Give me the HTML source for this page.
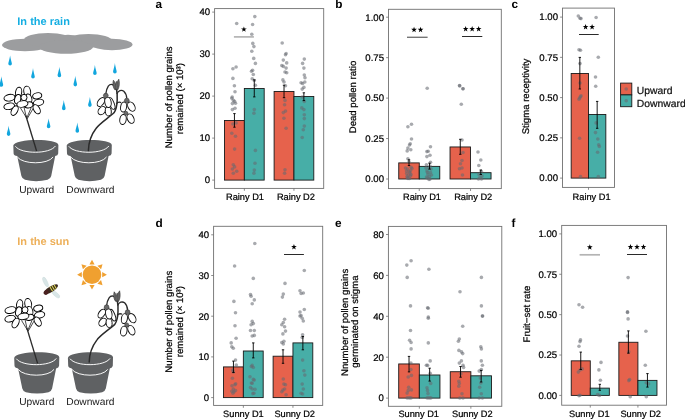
<!DOCTYPE html>
<html><head><meta charset="utf-8"><style>
html,body{margin:0;padding:0;background:#fff;}
svg{display:block;will-change:transform;text-rendering:geometricPrecision;font-family:"Liberation Sans", sans-serif;}
</style></head><body>
<svg width="685" height="419" viewBox="0 0 685 419">
<rect width="685" height="419" fill="#fff"/>
<text x="17.3" y="25.3" font-size="11" font-weight="bold" fill="#14AEE2">In the rain</text><g fill="#9C9D9F"><ellipse cx="25" cy="45" rx="23" ry="6.2"/><ellipse cx="48" cy="40" rx="24" ry="7"/><ellipse cx="88.5" cy="40.8" rx="23.5" ry="6.8"/><ellipse cx="68" cy="40.6" rx="14" ry="5.9"/><ellipse cx="66" cy="47" rx="27" ry="6.8"/><ellipse cx="112" cy="44.5" rx="20.5" ry="5.8"/></g><path d="M10.1 55.4 C10.5 58.9 11.9 62.5 11.9 63.7 A1.8 1.8 0 0 1 8.3 63.7 C8.3 62.5 9.7 58.9 10.1 55.4Z" fill="#12A6DE"/><path d="M33.0 67.9 C33.4 71.6 34.8 75.6 34.8 76.8 A1.8 1.8 0 0 1 31.2 76.8 C31.2 75.6 32.6 71.6 33.0 67.9Z" fill="#12A6DE"/><path d="M59.4 66.7 C59.8 70.4 61.2 74.2 61.2 75.4 A1.8 1.8 0 0 1 57.6 75.4 C57.6 74.2 59.0 70.4 59.4 66.7Z" fill="#12A6DE"/><path d="M1.4 76.2 C1.8 79.9 3.2 83.7 3.2 84.9 A1.8 1.8 0 0 1 -0.4 84.9 C-0.4 83.7 1.0 79.9 1.4 76.2Z" fill="#12A6DE"/><path d="M75.3 75.7 C75.7 79.4 77.1 83.4 77.1 84.6 A1.8 1.8 0 0 1 73.5 84.6 C73.5 83.4 74.9 79.4 75.3 75.7Z" fill="#12A6DE"/><path d="M94.9 64.9 C95.3 68.5 96.7 72.1 96.7 73.3 A1.8 1.8 0 0 1 93.1 73.3 C93.1 72.1 94.5 68.5 94.9 64.9Z" fill="#12A6DE"/><path d="M114.9 63.1 C115.3 66.8 116.7 70.6 116.7 71.8 A1.8 1.8 0 0 1 113.1 71.8 C113.1 70.6 114.5 66.8 114.9 63.1Z" fill="#12A6DE"/><path d="M63.8 100.1 C64.2 103.7 65.6 107.3 65.6 108.5 A1.8 1.8 0 0 1 62.0 108.5 C62.0 107.3 63.4 103.7 63.8 100.1Z" fill="#12A6DE"/><path d="M89.9 97.0 C90.3 100.5 91.7 103.9 91.7 105.1 A1.8 1.8 0 0 1 88.1 105.1 C88.1 103.9 89.5 100.5 89.9 97.0Z" fill="#12A6DE"/><path d="M48.6 118.5 C49.0 121.9 50.4 125.3 50.4 126.5 A1.8 1.8 0 0 1 46.8 126.5 C46.8 125.3 48.2 121.9 48.6 118.5Z" fill="#12A6DE"/><path d="M8.6 125.7 C9.0 129.3 10.4 132.9 10.4 134.1 A1.8 1.8 0 0 1 6.8 134.1 C6.8 132.9 8.2 129.3 8.6 125.7Z" fill="#12A6DE"/><path d="M77.3 122.6 C77.7 126.2 79.1 129.8 79.1 131.0 A1.8 1.8 0 0 1 75.5 131.0 C75.5 129.8 76.9 126.2 77.3 122.6Z" fill="#12A6DE"/><g transform="translate(0 0)"><path d="M13.3 145.6 C13.4 138.3 58.3 137.9 58.4 144.9 L58.2 153.4 Q58 155.4 55.2 156 L51.2 176 Q50.6 178.6 47.6 179.8 Q36 182.6 25 179.8 Q22 178.6 21.4 176 L17.2 156 Q13.8 155.4 13.6 153.4 Z" fill="#5F6163"/><path d="M15.4 146.3 C21 154.3 50 154.3 55.4 146" stroke="#fff" stroke-width="0.95" fill="none"/><path d="M17.3 157 C23 164.7 48 164.7 53.1 157" stroke="#fff" stroke-width="0.95" fill="none"/></g><g transform="translate(53.4 0)"><path d="M13.3 145.6 C13.4 138.3 58.3 137.9 58.4 144.9 L58.2 153.4 Q58 155.4 55.2 156 L51.2 176 Q50.6 178.6 47.6 179.8 Q36 182.6 25 179.8 Q22 178.6 21.4 176 L17.2 156 Q13.8 155.4 13.6 153.4 Z" fill="#5F6163"/><path d="M15.4 146.3 C21 154.3 50 154.3 55.4 146" stroke="#fff" stroke-width="0.95" fill="none"/><path d="M17.3 157 C23 164.7 48 164.7 53.1 157" stroke="#fff" stroke-width="0.95" fill="none"/></g><g transform="translate(0 0)"><path d="M25.8 115.5 L36.6 151" stroke="#2b2b2b" stroke-width="1.35" fill="none"/><path d="M26.3 117.5 L20.5 108 M26.3 117.5 L24 107 M26.8 118 L31 108 M27 119 L34 107" stroke="#2b2b2b" stroke-width="0.85" fill="none"/></g><g transform="translate(0 0)"><ellipse cx="9.5" cy="97.7" rx="5.6" ry="3.3" transform="rotate(-12 9.5 97.7)" fill="#fff" stroke="#000" stroke-width="0.95"/><ellipse cx="9.2" cy="106.3" rx="5.4" ry="3.2" transform="rotate(-12 9.2 106.3)" fill="#fff" stroke="#000" stroke-width="0.95"/><ellipse cx="14.6" cy="110.6" rx="3.0" ry="5.2" transform="rotate(28 14.6 110.6)" fill="#fff" stroke="#000" stroke-width="0.95"/><ellipse cx="38.6" cy="102.5" rx="5.2" ry="3.2" transform="rotate(-12 38.6 102.5)" fill="#fff" stroke="#000" stroke-width="0.95"/><ellipse cx="37.2" cy="95.8" rx="4.6" ry="3.0" transform="rotate(-12 37.2 95.8)" fill="#fff" stroke="#000" stroke-width="0.95"/><ellipse cx="36.7" cy="109.2" rx="3.0" ry="5.0" transform="rotate(-30 36.7 109.2)" fill="#fff" stroke="#000" stroke-width="0.95"/><ellipse cx="18.6" cy="92.5" rx="3.1" ry="5.3" transform="rotate(10 18.6 92.5)" fill="#fff" stroke="#000" stroke-width="0.95"/><ellipse cx="27.2" cy="91.5" rx="3.4" ry="5.4" transform="rotate(-10 27.2 91.5)" fill="#fff" stroke="#000" stroke-width="0.95"/><ellipse cx="17.7" cy="99.2" rx="3.0" ry="4.8" transform="rotate(15 17.7 99.2)" fill="#fff" stroke="#000" stroke-width="0.95"/><ellipse cx="28.6" cy="98.7" rx="3.2" ry="4.8" transform="rotate(-15 28.6 98.7)" fill="#fff" stroke="#000" stroke-width="0.95"/><ellipse cx="24.0" cy="97.5" rx="3.0" ry="3.2" transform="rotate(0 24.0 97.5)" fill="#fff" stroke="#000" stroke-width="0.95"/><ellipse cx="28.6" cy="104.9" rx="4.4" ry="3.0" transform="rotate(-10 28.6 104.9)" fill="#fff" stroke="#000" stroke-width="0.95"/><ellipse cx="22.4" cy="104.0" rx="5.6" ry="3.2" transform="rotate(-10 22.4 104.0)" fill="#fff" stroke="#000" stroke-width="0.95"/></g><g transform="translate(0 0)" fill="none" stroke="#2a2a2a" stroke-linecap="round"><path d="M88.4 150.5 C88.6 142 91 135 96 128.5 C100 123 109 117.5 114 112.8 C116.6 109 117.1 104 117.2 100 C117.4 95 117 91.5 116.5 89" stroke-width="1.5"/></g><g transform="translate(0 0)"><g fill="none" stroke="#2a2a2a" stroke-width="1.35"><path d="M116 88.5 C114.5 84 110.5 83.3 108.3 86.2 C106.6 88.8 106 92 105.8 94"/><path d="M116.9 94 C118 90.3 121.6 89.6 123.8 91.2 C125.8 93 126.6 96 126.8 98.5"/><path d="M116.3 103.8 C117.6 102.2 119.6 101.9 121.2 102.6"/></g><path d="M114.6 89.6 C112.6 87 112.6 83 113.4 80.2 C115 82 116 84.5 116.2 89.6Z" fill="#6a6a6a" stroke="#2a2a2a" stroke-width="0.6"/><path d="M116 89.6 C115.6 86 116.5 82.5 118.8 79.2 C119.8 83 119.4 87 117.8 89.8Z" fill="#6a6a6a" stroke="#2a2a2a" stroke-width="0.6"/><path d="M115.4 89.4 C114.8 86.5 115.4 83.5 116.4 81.3 C117.2 84 117.2 87 116.8 89.6Z" fill="#777" stroke="#2a2a2a" stroke-width="0.5"/><ellipse cx="101.9" cy="110.6" rx="3.3" ry="4.5" transform="rotate(40 101.9 110.6)" fill="#fff" stroke="#111" stroke-width="0.95"/><ellipse cx="108.3" cy="111.3" rx="3.0" ry="4.6" transform="rotate(-5 108.3 111.3)" fill="#fff" stroke="#111" stroke-width="0.95"/><ellipse cx="101" cy="102" rx="3.0" ry="5.0" transform="rotate(35 101 102)" fill="#fff" stroke="#111" stroke-width="0.95"/><ellipse cx="111.8" cy="103.5" rx="2.3" ry="6.2" transform="rotate(-22 111.8 103.5)" fill="#fff" stroke="#111" stroke-width="0.95"/><ellipse cx="108" cy="102.3" rx="3.2" ry="5.2" transform="rotate(-10 108 102.3)" fill="#fff" stroke="#111" stroke-width="0.95"/><circle cx="105.8" cy="95.6" r="2.4" fill="#6a6a6a" stroke="#333" stroke-width="0.6"/><ellipse cx="123" cy="119.5" rx="3.2" ry="5.0" transform="rotate(10 123 119.5)" fill="#fff" stroke="#111" stroke-width="0.95"/><ellipse cx="130.6" cy="118.6" rx="3.2" ry="5.0" transform="rotate(-25 130.6 118.6)" fill="#fff" stroke="#111" stroke-width="0.95"/><ellipse cx="123.6" cy="107" rx="3.0" ry="5.0" transform="rotate(10 123.6 107)" fill="#fff" stroke="#111" stroke-width="0.95"/><ellipse cx="131.4" cy="106.6" rx="3.3" ry="5.0" transform="rotate(-30 131.4 106.6)" fill="#fff" stroke="#111" stroke-width="0.95"/><circle cx="126.8" cy="100.6" r="2.4" fill="#6a6a6a" stroke="#333" stroke-width="0.6"/><circle cx="125.9" cy="113.3" r="2.0" fill="#6a6a6a" stroke="#333" stroke-width="0.6"/></g><text x="36.7" y="193.2" font-size="10.2" text-anchor="middle" fill="#1a1a1a">Upward</text><text x="90.4" y="193.2" font-size="10.2" text-anchor="middle" fill="#1a1a1a">Downward</text><text x="17.3" y="245.2" font-size="11" font-weight="bold" fill="#EDB05A">In the sun</text><g transform="translate(92 274.7)" fill="#F0A030"><circle r="9.3"/><path d="M-2.6 -10.2 L0 -14.9 L2.6 -10.2Z" transform="rotate(0)"/><path d="M-2.6 -10.2 L0 -14.9 L2.6 -10.2Z" transform="rotate(45)"/><path d="M-2.6 -10.2 L0 -14.9 L2.6 -10.2Z" transform="rotate(90)"/><path d="M-2.6 -10.2 L0 -14.9 L2.6 -10.2Z" transform="rotate(135)"/><path d="M-2.6 -10.2 L0 -14.9 L2.6 -10.2Z" transform="rotate(180)"/><path d="M-2.6 -10.2 L0 -14.9 L2.6 -10.2Z" transform="rotate(225)"/><path d="M-2.6 -10.2 L0 -14.9 L2.6 -10.2Z" transform="rotate(270)"/><path d="M-2.6 -10.2 L0 -14.9 L2.6 -10.2Z" transform="rotate(315)"/></g><ellipse cx="45.5" cy="282" rx="1.9" ry="5.3" transform="rotate(-25.6 45.5 282)" fill="#d9e6e7" stroke="#c0d2d2" stroke-width="0.3"/><ellipse cx="56" cy="294.5" rx="2.0" ry="4.6" transform="rotate(-49.5 56 294.5)" fill="#d9e6e7" stroke="#c0d2d2" stroke-width="0.3"/><g transform="translate(50.8 289.3) rotate(-31.7)"><ellipse cx="0" cy="0" rx="8.3" ry="2.8" fill="#3b2a1e"/><ellipse cx="-5.5" cy="0.2" rx="2.6" ry="2.3" fill="#4a2020"/><path d="M0.5 -2.6 V2.6 M2.8 -2.5 V2.5 M5.1 -2.1 V2.1" stroke="#dede5a" stroke-width="1.05"/></g><g transform="translate(0.9 212.4)"><path d="M13.3 145.6 C13.4 138.3 58.3 137.9 58.4 144.9 L58.2 153.4 Q58 155.4 55.2 156 L51.2 176 Q50.6 178.6 47.6 179.8 Q36 182.6 25 179.8 Q22 178.6 21.4 176 L17.2 156 Q13.8 155.4 13.6 153.4 Z" fill="#5F6163"/><path d="M15.4 146.3 C21 154.3 50 154.3 55.4 146" stroke="#fff" stroke-width="0.95" fill="none"/><path d="M17.3 157 C23 164.7 48 164.7 53.1 157" stroke="#fff" stroke-width="0.95" fill="none"/></g><g transform="translate(54.6 212.4)"><path d="M13.3 145.6 C13.4 138.3 58.3 137.9 58.4 144.9 L58.2 153.4 Q58 155.4 55.2 156 L51.2 176 Q50.6 178.6 47.6 179.8 Q36 182.6 25 179.8 Q22 178.6 21.4 176 L17.2 156 Q13.8 155.4 13.6 153.4 Z" fill="#5F6163"/><path d="M15.4 146.3 C21 154.3 50 154.3 55.4 146" stroke="#fff" stroke-width="0.95" fill="none"/><path d="M17.3 157 C23 164.7 48 164.7 53.1 157" stroke="#fff" stroke-width="0.95" fill="none"/></g><g transform="translate(1 212.4)"><path d="M25.8 115.5 L36.6 151" stroke="#2b2b2b" stroke-width="1.35" fill="none"/><path d="M26.3 117.5 L20.5 108 M26.3 117.5 L24 107 M26.8 118 L31 108 M27 119 L34 107" stroke="#2b2b2b" stroke-width="0.85" fill="none"/></g><g transform="translate(1 212.4)"><ellipse cx="9.5" cy="97.7" rx="5.6" ry="3.3" transform="rotate(-12 9.5 97.7)" fill="#fff" stroke="#000" stroke-width="0.95"/><ellipse cx="9.2" cy="106.3" rx="5.4" ry="3.2" transform="rotate(-12 9.2 106.3)" fill="#fff" stroke="#000" stroke-width="0.95"/><ellipse cx="14.6" cy="110.6" rx="3.0" ry="5.2" transform="rotate(28 14.6 110.6)" fill="#fff" stroke="#000" stroke-width="0.95"/><ellipse cx="38.6" cy="102.5" rx="5.2" ry="3.2" transform="rotate(-12 38.6 102.5)" fill="#fff" stroke="#000" stroke-width="0.95"/><ellipse cx="37.2" cy="95.8" rx="4.6" ry="3.0" transform="rotate(-12 37.2 95.8)" fill="#fff" stroke="#000" stroke-width="0.95"/><ellipse cx="36.7" cy="109.2" rx="3.0" ry="5.0" transform="rotate(-30 36.7 109.2)" fill="#fff" stroke="#000" stroke-width="0.95"/><ellipse cx="18.6" cy="92.5" rx="3.1" ry="5.3" transform="rotate(10 18.6 92.5)" fill="#fff" stroke="#000" stroke-width="0.95"/><ellipse cx="27.2" cy="91.5" rx="3.4" ry="5.4" transform="rotate(-10 27.2 91.5)" fill="#fff" stroke="#000" stroke-width="0.95"/><ellipse cx="17.7" cy="99.2" rx="3.0" ry="4.8" transform="rotate(15 17.7 99.2)" fill="#fff" stroke="#000" stroke-width="0.95"/><ellipse cx="28.6" cy="98.7" rx="3.2" ry="4.8" transform="rotate(-15 28.6 98.7)" fill="#fff" stroke="#000" stroke-width="0.95"/><ellipse cx="24.0" cy="97.5" rx="3.0" ry="3.2" transform="rotate(0 24.0 97.5)" fill="#fff" stroke="#000" stroke-width="0.95"/><ellipse cx="28.6" cy="104.9" rx="4.4" ry="3.0" transform="rotate(-10 28.6 104.9)" fill="#fff" stroke="#000" stroke-width="0.95"/><ellipse cx="22.4" cy="104.0" rx="5.6" ry="3.2" transform="rotate(-10 22.4 104.0)" fill="#fff" stroke="#000" stroke-width="0.95"/></g><g transform="translate(0.8 211.6)" fill="none" stroke="#2a2a2a" stroke-linecap="round"><path d="M88.4 150.5 C88.6 142 91 135 96 128.5 C100 123 109 117.5 114 112.8 C116.6 109 117.1 104 117.2 100 C117.4 95 117 91.5 116.5 89" stroke-width="1.5"/></g><g transform="translate(0.8 211.6)"><g fill="none" stroke="#2a2a2a" stroke-width="1.35"><path d="M116 88.5 C114.5 84 110.5 83.3 108.3 86.2 C106.6 88.8 106 92 105.8 94"/><path d="M116.9 94 C118 90.3 121.6 89.6 123.8 91.2 C125.8 93 126.6 96 126.8 98.5"/><path d="M116.3 103.8 C117.6 102.2 119.6 101.9 121.2 102.6"/></g><path d="M114.6 89.6 C112.6 87 112.6 83 113.4 80.2 C115 82 116 84.5 116.2 89.6Z" fill="#6a6a6a" stroke="#2a2a2a" stroke-width="0.6"/><path d="M116 89.6 C115.6 86 116.5 82.5 118.8 79.2 C119.8 83 119.4 87 117.8 89.8Z" fill="#6a6a6a" stroke="#2a2a2a" stroke-width="0.6"/><path d="M115.4 89.4 C114.8 86.5 115.4 83.5 116.4 81.3 C117.2 84 117.2 87 116.8 89.6Z" fill="#777" stroke="#2a2a2a" stroke-width="0.5"/><ellipse cx="101.9" cy="110.6" rx="3.3" ry="4.5" transform="rotate(40 101.9 110.6)" fill="#fff" stroke="#111" stroke-width="0.95"/><ellipse cx="108.3" cy="111.3" rx="3.0" ry="4.6" transform="rotate(-5 108.3 111.3)" fill="#fff" stroke="#111" stroke-width="0.95"/><ellipse cx="101" cy="102" rx="3.0" ry="5.0" transform="rotate(35 101 102)" fill="#fff" stroke="#111" stroke-width="0.95"/><ellipse cx="111.8" cy="103.5" rx="2.3" ry="6.2" transform="rotate(-22 111.8 103.5)" fill="#fff" stroke="#111" stroke-width="0.95"/><ellipse cx="108" cy="102.3" rx="3.2" ry="5.2" transform="rotate(-10 108 102.3)" fill="#fff" stroke="#111" stroke-width="0.95"/><circle cx="105.8" cy="95.6" r="2.4" fill="#6a6a6a" stroke="#333" stroke-width="0.6"/><ellipse cx="123" cy="119.5" rx="3.2" ry="5.0" transform="rotate(10 123 119.5)" fill="#fff" stroke="#111" stroke-width="0.95"/><ellipse cx="130.6" cy="118.6" rx="3.2" ry="5.0" transform="rotate(-25 130.6 118.6)" fill="#fff" stroke="#111" stroke-width="0.95"/><ellipse cx="123.6" cy="107" rx="3.0" ry="5.0" transform="rotate(10 123.6 107)" fill="#fff" stroke="#111" stroke-width="0.95"/><ellipse cx="131.4" cy="106.6" rx="3.3" ry="5.0" transform="rotate(-30 131.4 106.6)" fill="#fff" stroke="#111" stroke-width="0.95"/><circle cx="126.8" cy="100.6" r="2.4" fill="#6a6a6a" stroke="#333" stroke-width="0.6"/><circle cx="125.9" cy="113.3" r="2.0" fill="#6a6a6a" stroke="#333" stroke-width="0.6"/></g><text x="36.8" y="405.4" font-size="10.2" text-anchor="middle" fill="#1a1a1a">Upward</text><text x="90.4" y="405.4" font-size="10.2" text-anchor="middle" fill="#1a1a1a">Downward</text>
<text x="155.60" y="7.90" font-size="11.8" text-anchor="start" font-weight="bold" fill="#000">a</text>
<text x="172.20" y="97.30" font-size="9.6" text-anchor="middle" font-weight="normal" fill="#000" stroke="#000" stroke-width="0.22" transform="rotate(-90 172.2 97.3)">Number of pollen grains</text>
<text x="183.00" y="98.60" font-size="9.6" text-anchor="middle" font-weight="normal" fill="#000" stroke="#000" stroke-width="0.22" transform="rotate(-90 183.0 98.6)">remained (× 10³)</text>
<line x1="212.20" y1="180.10" x2="214.60" y2="180.10" stroke="#707070" stroke-width="0.8"/>
<text x="210.10" y="183.40" font-size="9.6" text-anchor="end" font-weight="normal" fill="#000" stroke="#000" stroke-width="0.22">0</text>
<line x1="212.20" y1="138.10" x2="214.60" y2="138.10" stroke="#707070" stroke-width="0.8"/>
<text x="210.10" y="141.40" font-size="9.6" text-anchor="end" font-weight="normal" fill="#000" stroke="#000" stroke-width="0.22">10</text>
<line x1="212.20" y1="96.10" x2="214.60" y2="96.10" stroke="#707070" stroke-width="0.8"/>
<text x="210.10" y="99.40" font-size="9.6" text-anchor="end" font-weight="normal" fill="#000" stroke="#000" stroke-width="0.22">20</text>
<line x1="212.20" y1="54.10" x2="214.60" y2="54.10" stroke="#707070" stroke-width="0.8"/>
<text x="210.10" y="57.40" font-size="9.6" text-anchor="end" font-weight="normal" fill="#000" stroke="#000" stroke-width="0.22">30</text>
<line x1="212.20" y1="12.10" x2="214.60" y2="12.10" stroke="#707070" stroke-width="0.8"/>
<text x="210.10" y="15.40" font-size="9.6" text-anchor="end" font-weight="normal" fill="#000" stroke="#000" stroke-width="0.22">40</text>
<rect x="224.52" y="120.46" width="19.84" height="59.64" fill="#E6624C" stroke="#1a1a1a" stroke-width="0.9"/>
<rect x="244.35" y="88.54" width="19.84" height="91.56" fill="#47AEA7" stroke="#1a1a1a" stroke-width="0.9"/>
<rect x="274.11" y="91.48" width="19.84" height="88.62" fill="#E6624C" stroke="#1a1a1a" stroke-width="0.9"/>
<rect x="293.95" y="96.52" width="19.84" height="83.58" fill="#47AEA7" stroke="#1a1a1a" stroke-width="0.9"/>
<circle cx="236.7" cy="23.5" r="1.8" fill="#666a70" fill-opacity="0.57"/>
<circle cx="232.9" cy="68.7" r="1.8" fill="#666a70" fill-opacity="0.57"/>
<circle cx="236.1" cy="67.0" r="1.8" fill="#666a70" fill-opacity="0.57"/>
<circle cx="232.9" cy="78.4" r="1.8" fill="#666a70" fill-opacity="0.57"/>
<circle cx="234.4" cy="85.7" r="1.8" fill="#666a70" fill-opacity="0.57"/>
<circle cx="235.0" cy="91.7" r="1.8" fill="#666a70" fill-opacity="0.57"/>
<circle cx="232.2" cy="97.0" r="1.8" fill="#666a70" fill-opacity="0.57"/>
<circle cx="254.8" cy="16.6" r="1.8" fill="#666a70" fill-opacity="0.57"/>
<circle cx="252.6" cy="24.5" r="1.8" fill="#666a70" fill-opacity="0.57"/>
<circle cx="251.8" cy="34.2" r="1.8" fill="#666a70" fill-opacity="0.57"/>
<circle cx="252.8" cy="43.4" r="1.8" fill="#666a70" fill-opacity="0.57"/>
<circle cx="253.9" cy="46.6" r="1.8" fill="#666a70" fill-opacity="0.57"/>
<circle cx="251.8" cy="51.3" r="1.8" fill="#666a70" fill-opacity="0.57"/>
<circle cx="253.7" cy="58.4" r="1.8" fill="#666a70" fill-opacity="0.57"/>
<circle cx="255.4" cy="63.4" r="1.8" fill="#666a70" fill-opacity="0.57"/>
<circle cx="251.5" cy="71.3" r="1.8" fill="#666a70" fill-opacity="0.57"/>
<circle cx="252.6" cy="70.2" r="1.8" fill="#666a70" fill-opacity="0.57"/>
<circle cx="253.3" cy="74.5" r="1.8" fill="#666a70" fill-opacity="0.57"/>
<circle cx="252.2" cy="78.8" r="1.8" fill="#666a70" fill-opacity="0.57"/>
<circle cx="254.3" cy="80.5" r="1.8" fill="#666a70" fill-opacity="0.57"/>
<circle cx="255.4" cy="85.3" r="1.8" fill="#666a70" fill-opacity="0.57"/>
<circle cx="231.8" cy="98.2" r="1.8" fill="#666a70" fill-opacity="0.57"/>
<circle cx="233.3" cy="100.4" r="1.8" fill="#666a70" fill-opacity="0.57"/>
<circle cx="234.6" cy="101.4" r="1.8" fill="#666a70" fill-opacity="0.57"/>
<circle cx="232.4" cy="103.6" r="1.8" fill="#666a70" fill-opacity="0.57"/>
<circle cx="235.5" cy="103.2" r="1.8" fill="#666a70" fill-opacity="0.57"/>
<circle cx="232.4" cy="109.6" r="1.8" fill="#666a70" fill-opacity="0.57"/>
<circle cx="235.0" cy="108.3" r="1.8" fill="#666a70" fill-opacity="0.57"/>
<circle cx="232.9" cy="124.0" r="1.8" fill="#666a70" fill-opacity="0.57"/>
<circle cx="236.1" cy="122.9" r="1.8" fill="#666a70" fill-opacity="0.57"/>
<circle cx="231.8" cy="133.2" r="1.8" fill="#666a70" fill-opacity="0.57"/>
<circle cx="235.5" cy="136.2" r="1.8" fill="#666a70" fill-opacity="0.57"/>
<circle cx="234.6" cy="149.1" r="1.8" fill="#666a70" fill-opacity="0.57"/>
<circle cx="233.3" cy="164.7" r="1.8" fill="#666a70" fill-opacity="0.57"/>
<circle cx="234.6" cy="166.9" r="1.8" fill="#666a70" fill-opacity="0.57"/>
<circle cx="232.4" cy="169.0" r="1.8" fill="#666a70" fill-opacity="0.57"/>
<circle cx="236.7" cy="171.2" r="1.8" fill="#666a70" fill-opacity="0.57"/>
<circle cx="233.3" cy="173.3" r="1.8" fill="#666a70" fill-opacity="0.57"/>
<circle cx="254.3" cy="109.6" r="1.8" fill="#666a70" fill-opacity="0.57"/>
<circle cx="253.9" cy="113.2" r="1.8" fill="#666a70" fill-opacity="0.57"/>
<circle cx="255.4" cy="150.4" r="1.8" fill="#666a70" fill-opacity="0.57"/>
<circle cx="255.0" cy="163.2" r="1.8" fill="#666a70" fill-opacity="0.57"/>
<circle cx="254.3" cy="170.1" r="1.8" fill="#666a70" fill-opacity="0.57"/>
<circle cx="253.9" cy="173.3" r="1.8" fill="#666a70" fill-opacity="0.57"/>
<circle cx="282.2" cy="43.0" r="1.8" fill="#666a70" fill-opacity="0.57"/>
<circle cx="286.1" cy="53.5" r="1.8" fill="#666a70" fill-opacity="0.57"/>
<circle cx="285.5" cy="54.8" r="1.8" fill="#666a70" fill-opacity="0.57"/>
<circle cx="283.3" cy="60.1" r="1.8" fill="#666a70" fill-opacity="0.57"/>
<circle cx="286.7" cy="62.9" r="1.8" fill="#666a70" fill-opacity="0.57"/>
<circle cx="281.8" cy="65.5" r="1.8" fill="#666a70" fill-opacity="0.57"/>
<circle cx="283.3" cy="66.4" r="1.8" fill="#666a70" fill-opacity="0.57"/>
<circle cx="286.1" cy="68.1" r="1.8" fill="#666a70" fill-opacity="0.57"/>
<circle cx="285.0" cy="72.0" r="1.8" fill="#666a70" fill-opacity="0.57"/>
<circle cx="286.7" cy="72.8" r="1.8" fill="#666a70" fill-opacity="0.57"/>
<circle cx="282.9" cy="79.9" r="1.8" fill="#666a70" fill-opacity="0.57"/>
<circle cx="284.0" cy="82.0" r="1.8" fill="#666a70" fill-opacity="0.57"/>
<circle cx="285.5" cy="85.7" r="1.8" fill="#666a70" fill-opacity="0.57"/>
<circle cx="304.3" cy="59.1" r="1.8" fill="#666a70" fill-opacity="0.57"/>
<circle cx="302.6" cy="63.4" r="1.8" fill="#666a70" fill-opacity="0.57"/>
<circle cx="303.9" cy="68.1" r="1.8" fill="#666a70" fill-opacity="0.57"/>
<circle cx="304.3" cy="75.0" r="1.8" fill="#666a70" fill-opacity="0.57"/>
<circle cx="305.0" cy="77.7" r="1.8" fill="#666a70" fill-opacity="0.57"/>
<circle cx="301.1" cy="82.7" r="1.8" fill="#666a70" fill-opacity="0.57"/>
<circle cx="302.6" cy="83.5" r="1.8" fill="#666a70" fill-opacity="0.57"/>
<circle cx="304.8" cy="82.0" r="1.8" fill="#666a70" fill-opacity="0.57"/>
<circle cx="303.9" cy="87.4" r="1.8" fill="#666a70" fill-opacity="0.57"/>
<circle cx="302.2" cy="89.1" r="1.8" fill="#666a70" fill-opacity="0.57"/>
<circle cx="285.0" cy="100.4" r="1.8" fill="#666a70" fill-opacity="0.57"/>
<circle cx="284.6" cy="104.7" r="1.8" fill="#666a70" fill-opacity="0.57"/>
<circle cx="285.5" cy="111.1" r="1.8" fill="#666a70" fill-opacity="0.57"/>
<circle cx="283.3" cy="112.6" r="1.8" fill="#666a70" fill-opacity="0.57"/>
<circle cx="283.9" cy="118.2" r="1.8" fill="#666a70" fill-opacity="0.57"/>
<circle cx="286.1" cy="128.3" r="1.8" fill="#666a70" fill-opacity="0.57"/>
<circle cx="285.0" cy="169.7" r="1.8" fill="#666a70" fill-opacity="0.57"/>
<circle cx="284.6" cy="173.3" r="1.8" fill="#666a70" fill-opacity="0.57"/>
<circle cx="302.2" cy="97.1" r="1.8" fill="#666a70" fill-opacity="0.57"/>
<circle cx="304.3" cy="101.4" r="1.8" fill="#666a70" fill-opacity="0.57"/>
<circle cx="301.8" cy="107.9" r="1.8" fill="#666a70" fill-opacity="0.57"/>
<circle cx="303.9" cy="109.6" r="1.8" fill="#666a70" fill-opacity="0.57"/>
<circle cx="304.3" cy="114.7" r="1.8" fill="#666a70" fill-opacity="0.57"/>
<circle cx="304.3" cy="118.6" r="1.8" fill="#666a70" fill-opacity="0.57"/>
<circle cx="304.3" cy="126.1" r="1.8" fill="#666a70" fill-opacity="0.57"/>
<circle cx="303.3" cy="129.8" r="1.8" fill="#666a70" fill-opacity="0.57"/>
<circle cx="302.2" cy="137.5" r="1.8" fill="#666a70" fill-opacity="0.57"/>
<path d="M233.24 113.60H235.64M234.44 113.60V127.20M233.24 127.20H235.64" stroke="#000" stroke-width="0.9" fill="none"/>
<path d="M253.07 79.90H255.47M254.27 79.90V96.90M253.07 96.90H255.47" stroke="#000" stroke-width="0.9" fill="none"/>
<path d="M282.83 85.20H285.23M284.03 85.20V97.70M282.83 97.70H285.23" stroke="#000" stroke-width="0.9" fill="none"/>
<path d="M302.66 92.80H305.06M303.86 92.80V100.60M302.66 100.60H305.06" stroke="#000" stroke-width="0.9" fill="none"/>
<rect x="214.60" y="8.60" width="109.10" height="179.80" fill="none" stroke="#707070" stroke-width="0.9"/>
<line x1="244.35" y1="188.40" x2="244.35" y2="190.80" stroke="#707070" stroke-width="0.8"/>
<text x="245.00" y="199.80" font-size="9.25" text-anchor="middle" font-weight="normal" fill="#000" stroke="#000" stroke-width="0.22">Rainy D1</text>
<line x1="293.95" y1="188.40" x2="293.95" y2="190.80" stroke="#707070" stroke-width="0.8"/>
<text x="295.90" y="199.80" font-size="9.25" text-anchor="middle" font-weight="normal" fill="#000" stroke="#000" stroke-width="0.22">Rainy D2</text>
<line x1="233.90" y1="36.90" x2="253.90" y2="36.90" stroke="#b4b4b4" stroke-width="1.7"/>
<polygon points="243.90,26.40 244.61,28.43 246.75,28.47 245.04,29.77 245.66,31.83 243.90,30.60 242.14,31.83 242.76,29.77 241.05,28.47 243.19,28.43" fill="#000"/>
<text x="335.20" y="7.70" font-size="11.8" text-anchor="start" font-weight="bold" fill="#000">b</text>
<text x="356.00" y="97.00" font-size="9.6" text-anchor="middle" font-weight="normal" fill="#000" stroke="#000" stroke-width="0.22" transform="rotate(-90 356.0 97.0)">Dead pollen ratio</text>
<line x1="386.10" y1="179.00" x2="388.50" y2="179.00" stroke="#707070" stroke-width="0.8"/>
<text x="384.00" y="182.30" font-size="9.6" text-anchor="end" font-weight="normal" fill="#000" stroke="#000" stroke-width="0.22">0.00</text>
<line x1="386.10" y1="138.55" x2="388.50" y2="138.55" stroke="#707070" stroke-width="0.8"/>
<text x="384.00" y="141.85" font-size="9.6" text-anchor="end" font-weight="normal" fill="#000" stroke="#000" stroke-width="0.22">0.25</text>
<line x1="386.10" y1="98.10" x2="388.50" y2="98.10" stroke="#707070" stroke-width="0.8"/>
<text x="384.00" y="101.40" font-size="9.6" text-anchor="end" font-weight="normal" fill="#000" stroke="#000" stroke-width="0.22">0.50</text>
<line x1="386.10" y1="57.65" x2="388.50" y2="57.65" stroke="#707070" stroke-width="0.8"/>
<text x="384.00" y="60.95" font-size="9.6" text-anchor="end" font-weight="normal" fill="#000" stroke="#000" stroke-width="0.22">0.75</text>
<line x1="386.10" y1="17.20" x2="388.50" y2="17.20" stroke="#707070" stroke-width="0.8"/>
<text x="384.00" y="20.50" font-size="9.6" text-anchor="end" font-weight="normal" fill="#000" stroke="#000" stroke-width="0.22">1.00</text>
<rect x="398.75" y="162.90" width="20.51" height="16.10" fill="#E6624C" stroke="#1a1a1a" stroke-width="0.9"/>
<rect x="419.26" y="166.38" width="20.51" height="12.62" fill="#47AEA7" stroke="#1a1a1a" stroke-width="0.9"/>
<rect x="450.03" y="146.96" width="20.51" height="32.04" fill="#E6624C" stroke="#1a1a1a" stroke-width="0.9"/>
<rect x="470.54" y="172.69" width="20.51" height="6.31" fill="#47AEA7" stroke="#1a1a1a" stroke-width="0.9"/>
<circle cx="427.2" cy="88.2" r="1.8" fill="#666a70" fill-opacity="0.57"/>
<circle cx="459.7" cy="85.9" r="1.8" fill="#666a70" fill-opacity="0.57"/>
<circle cx="463.0" cy="88.8" r="1.8" fill="#666a70" fill-opacity="0.57"/>
<circle cx="407.9" cy="126.7" r="1.8" fill="#666a70" fill-opacity="0.57"/>
<circle cx="411.5" cy="124.3" r="1.8" fill="#666a70" fill-opacity="0.57"/>
<circle cx="411.5" cy="139.0" r="1.8" fill="#666a70" fill-opacity="0.57"/>
<circle cx="410.2" cy="143.7" r="1.8" fill="#666a70" fill-opacity="0.57"/>
<circle cx="409.5" cy="145.0" r="1.8" fill="#666a70" fill-opacity="0.57"/>
<circle cx="407.9" cy="148.0" r="1.8" fill="#666a70" fill-opacity="0.57"/>
<circle cx="410.8" cy="149.8" r="1.8" fill="#666a70" fill-opacity="0.57"/>
<circle cx="407.2" cy="150.9" r="1.8" fill="#666a70" fill-opacity="0.57"/>
<circle cx="407.9" cy="158.7" r="1.8" fill="#666a70" fill-opacity="0.57"/>
<circle cx="409.0" cy="162.0" r="1.8" fill="#666a70" fill-opacity="0.57"/>
<circle cx="407.5" cy="169.1" r="1.8" fill="#666a70" fill-opacity="0.57"/>
<circle cx="409.3" cy="171.8" r="1.8" fill="#666a70" fill-opacity="0.57"/>
<circle cx="406.6" cy="173.6" r="1.8" fill="#666a70" fill-opacity="0.57"/>
<circle cx="408.4" cy="175.4" r="1.8" fill="#666a70" fill-opacity="0.57"/>
<circle cx="407.5" cy="177.7" r="1.8" fill="#666a70" fill-opacity="0.57"/>
<circle cx="410.5" cy="176.0" r="1.8" fill="#666a70" fill-opacity="0.57"/>
<circle cx="411.1" cy="167.3" r="1.8" fill="#666a70" fill-opacity="0.57"/>
<circle cx="410.0" cy="173.0" r="1.8" fill="#666a70" fill-opacity="0.57"/>
<circle cx="408.0" cy="178.5" r="1.8" fill="#666a70" fill-opacity="0.57"/>
<circle cx="430.5" cy="146.7" r="1.8" fill="#666a70" fill-opacity="0.57"/>
<circle cx="426.9" cy="151.6" r="1.8" fill="#666a70" fill-opacity="0.57"/>
<circle cx="428.2" cy="151.2" r="1.8" fill="#666a70" fill-opacity="0.57"/>
<circle cx="430.0" cy="155.2" r="1.8" fill="#666a70" fill-opacity="0.57"/>
<circle cx="426.9" cy="156.6" r="1.8" fill="#666a70" fill-opacity="0.57"/>
<circle cx="430.5" cy="162.3" r="1.8" fill="#666a70" fill-opacity="0.57"/>
<circle cx="426.4" cy="164.7" r="1.8" fill="#666a70" fill-opacity="0.57"/>
<circle cx="429.0" cy="168.0" r="1.8" fill="#666a70" fill-opacity="0.57"/>
<circle cx="427.0" cy="171.0" r="1.8" fill="#666a70" fill-opacity="0.57"/>
<circle cx="430.5" cy="172.5" r="1.8" fill="#666a70" fill-opacity="0.57"/>
<circle cx="428.0" cy="174.5" r="1.8" fill="#666a70" fill-opacity="0.57"/>
<circle cx="429.5" cy="176.5" r="1.8" fill="#666a70" fill-opacity="0.57"/>
<circle cx="427.5" cy="178.0" r="1.8" fill="#666a70" fill-opacity="0.57"/>
<circle cx="430.0" cy="179.0" r="1.8" fill="#666a70" fill-opacity="0.57"/>
<circle cx="459.5" cy="85.5" r="1.8" fill="#666a70" fill-opacity="0.57"/>
<circle cx="463.0" cy="88.8" r="1.8" fill="#666a70" fill-opacity="0.57"/>
<circle cx="461.3" cy="104.3" r="1.8" fill="#666a70" fill-opacity="0.57"/>
<circle cx="462.0" cy="140.0" r="1.8" fill="#666a70" fill-opacity="0.57"/>
<circle cx="463.0" cy="152.5" r="1.8" fill="#666a70" fill-opacity="0.57"/>
<circle cx="462.0" cy="160.5" r="1.8" fill="#666a70" fill-opacity="0.57"/>
<circle cx="460.5" cy="163.8" r="1.8" fill="#666a70" fill-opacity="0.57"/>
<circle cx="459.5" cy="168.8" r="1.8" fill="#666a70" fill-opacity="0.57"/>
<circle cx="462.0" cy="168.0" r="1.8" fill="#666a70" fill-opacity="0.57"/>
<circle cx="462.5" cy="175.0" r="1.8" fill="#666a70" fill-opacity="0.57"/>
<circle cx="410.5" cy="170.5" r="1.8" fill="#666a70" fill-opacity="0.57"/>
<circle cx="406.5" cy="171.0" r="1.8" fill="#666a70" fill-opacity="0.57"/>
<circle cx="411.0" cy="174.5" r="1.8" fill="#666a70" fill-opacity="0.57"/>
<circle cx="407.0" cy="176.5" r="1.8" fill="#666a70" fill-opacity="0.57"/>
<circle cx="409.5" cy="178.5" r="1.8" fill="#666a70" fill-opacity="0.57"/>
<circle cx="412.0" cy="168.5" r="1.8" fill="#666a70" fill-opacity="0.57"/>
<circle cx="405.5" cy="168.0" r="1.8" fill="#666a70" fill-opacity="0.57"/>
<circle cx="426.0" cy="168.0" r="1.8" fill="#666a70" fill-opacity="0.57"/>
<circle cx="431.0" cy="169.0" r="1.8" fill="#666a70" fill-opacity="0.57"/>
<circle cx="427.5" cy="172.5" r="1.8" fill="#666a70" fill-opacity="0.57"/>
<circle cx="431.5" cy="175.0" r="1.8" fill="#666a70" fill-opacity="0.57"/>
<circle cx="426.5" cy="177.0" r="1.8" fill="#666a70" fill-opacity="0.57"/>
<circle cx="429.0" cy="179.5" r="1.8" fill="#666a70" fill-opacity="0.57"/>
<circle cx="430.0" cy="166.0" r="1.8" fill="#666a70" fill-opacity="0.57"/>
<circle cx="478.0" cy="152.0" r="1.8" fill="#666a70" fill-opacity="0.57"/>
<circle cx="480.8" cy="160.0" r="1.8" fill="#666a70" fill-opacity="0.57"/>
<circle cx="478.8" cy="165.5" r="1.8" fill="#666a70" fill-opacity="0.57"/>
<circle cx="481.3" cy="171.3" r="1.8" fill="#666a70" fill-opacity="0.57"/>
<circle cx="479.0" cy="174.5" r="1.8" fill="#666a70" fill-opacity="0.57"/>
<circle cx="482.0" cy="176.0" r="1.8" fill="#666a70" fill-opacity="0.57"/>
<circle cx="480.0" cy="177.5" r="1.8" fill="#666a70" fill-opacity="0.57"/>
<circle cx="478.5" cy="179.0" r="1.8" fill="#666a70" fill-opacity="0.57"/>
<circle cx="481.5" cy="179.0" r="1.8" fill="#666a70" fill-opacity="0.57"/>
<path d="M407.81 159.80H410.21M409.01 159.80V165.60M407.81 165.60H410.21" stroke="#000" stroke-width="0.9" fill="none"/>
<path d="M428.32 163.20H430.72M429.52 163.20V169.10M428.32 169.10H430.72" stroke="#000" stroke-width="0.9" fill="none"/>
<path d="M459.08 139.30H461.48M460.28 139.30V154.30M459.08 154.30H461.48" stroke="#000" stroke-width="0.9" fill="none"/>
<path d="M479.59 170.00H481.99M480.79 170.00V174.50M479.59 174.50H481.99" stroke="#000" stroke-width="0.9" fill="none"/>
<rect x="388.50" y="9.30" width="112.80" height="179.30" fill="none" stroke="#707070" stroke-width="0.9"/>
<line x1="419.26" y1="188.60" x2="419.26" y2="191.00" stroke="#707070" stroke-width="0.8"/>
<text x="422.00" y="199.80" font-size="9.25" text-anchor="middle" font-weight="normal" fill="#000" stroke="#000" stroke-width="0.22">Rainy D1</text>
<line x1="470.54" y1="188.60" x2="470.54" y2="191.00" stroke="#707070" stroke-width="0.8"/>
<text x="473.20" y="199.80" font-size="9.25" text-anchor="middle" font-weight="normal" fill="#000" stroke="#000" stroke-width="0.22">Rainy D2</text>
<line x1="407.00" y1="37.30" x2="427.60" y2="37.30" stroke="#757575" stroke-width="1.4"/>
<polygon points="414.05,26.80 414.76,28.83 416.90,28.87 415.19,30.17 415.81,32.23 414.05,31.00 412.29,32.23 412.91,30.17 411.20,28.87 413.34,28.83" fill="#000"/>
<polygon points="420.55,26.80 421.26,28.83 423.40,28.87 421.69,30.17 422.31,32.23 420.55,31.00 418.79,32.23 419.41,30.17 417.70,28.87 419.84,28.83" fill="#000"/>
<line x1="462.00" y1="36.50" x2="482.30" y2="36.50" stroke="#2a2a2a" stroke-width="1.0"/>
<polygon points="465.65,26.00 466.36,28.03 468.50,28.07 466.79,29.37 467.41,31.43 465.65,30.20 463.89,31.43 464.51,29.37 462.80,28.07 464.94,28.03" fill="#000"/>
<polygon points="472.15,26.00 472.86,28.03 475.00,28.07 473.29,29.37 473.91,31.43 472.15,30.20 470.39,31.43 471.01,29.37 469.30,28.07 471.44,28.03" fill="#000"/>
<polygon points="478.65,26.00 479.36,28.03 481.50,28.07 479.79,29.37 480.41,31.43 478.65,30.20 476.89,31.43 477.51,29.37 475.80,28.07 477.94,28.03" fill="#000"/>
<text x="511.60" y="7.90" font-size="11.8" text-anchor="start" font-weight="bold" fill="#000">c</text>
<text x="529.30" y="96.50" font-size="9.6" text-anchor="middle" font-weight="normal" fill="#000" stroke="#000" stroke-width="0.22" transform="rotate(-90 529.3 96.5)">Stigma receptivity</text>
<line x1="560.10" y1="178.10" x2="562.50" y2="178.10" stroke="#707070" stroke-width="0.8"/>
<text x="558.00" y="181.40" font-size="9.6" text-anchor="end" font-weight="normal" fill="#000" stroke="#000" stroke-width="0.22">0.00</text>
<line x1="560.10" y1="137.85" x2="562.50" y2="137.85" stroke="#707070" stroke-width="0.8"/>
<text x="558.00" y="141.15" font-size="9.6" text-anchor="end" font-weight="normal" fill="#000" stroke="#000" stroke-width="0.22">0.25</text>
<line x1="560.10" y1="97.60" x2="562.50" y2="97.60" stroke="#707070" stroke-width="0.8"/>
<text x="558.00" y="100.90" font-size="9.6" text-anchor="end" font-weight="normal" fill="#000" stroke="#000" stroke-width="0.22">0.50</text>
<line x1="560.10" y1="57.35" x2="562.50" y2="57.35" stroke="#707070" stroke-width="0.8"/>
<text x="558.00" y="60.65" font-size="9.6" text-anchor="end" font-weight="normal" fill="#000" stroke="#000" stroke-width="0.22">0.75</text>
<line x1="560.10" y1="17.10" x2="562.50" y2="17.10" stroke="#707070" stroke-width="0.8"/>
<text x="558.00" y="20.40" font-size="9.6" text-anchor="end" font-weight="normal" fill="#000" stroke="#000" stroke-width="0.22">1.00</text>
<rect x="571.17" y="73.45" width="17.33" height="104.65" fill="#E6624C" stroke="#1a1a1a" stroke-width="0.9"/>
<rect x="588.50" y="114.50" width="17.33" height="63.59" fill="#47AEA7" stroke="#1a1a1a" stroke-width="0.9"/>
<circle cx="578.3" cy="16.0" r="1.8" fill="#666a70" fill-opacity="0.57"/>
<circle cx="580.0" cy="18.2" r="1.8" fill="#666a70" fill-opacity="0.57"/>
<circle cx="581.0" cy="18.6" r="1.8" fill="#666a70" fill-opacity="0.57"/>
<circle cx="579.0" cy="49.7" r="1.8" fill="#666a70" fill-opacity="0.57"/>
<circle cx="580.5" cy="50.3" r="1.8" fill="#666a70" fill-opacity="0.57"/>
<circle cx="580.0" cy="63.6" r="1.8" fill="#666a70" fill-opacity="0.57"/>
<circle cx="580.0" cy="83.0" r="1.8" fill="#666a70" fill-opacity="0.57"/>
<circle cx="581.0" cy="95.8" r="1.8" fill="#666a70" fill-opacity="0.57"/>
<circle cx="579.6" cy="98.0" r="1.8" fill="#666a70" fill-opacity="0.57"/>
<circle cx="596.1" cy="17.5" r="1.8" fill="#666a70" fill-opacity="0.57"/>
<circle cx="598.3" cy="57.2" r="1.8" fill="#666a70" fill-opacity="0.57"/>
<circle cx="595.5" cy="77.0" r="1.8" fill="#666a70" fill-opacity="0.57"/>
<circle cx="595.7" cy="86.2" r="1.8" fill="#666a70" fill-opacity="0.57"/>
<circle cx="580.5" cy="96.7" r="1.8" fill="#666a70" fill-opacity="0.57"/>
<circle cx="579.0" cy="99.3" r="1.8" fill="#666a70" fill-opacity="0.57"/>
<circle cx="579.6" cy="138.3" r="1.8" fill="#666a70" fill-opacity="0.57"/>
<circle cx="580.5" cy="176.5" r="1.8" fill="#666a70" fill-opacity="0.57"/>
<circle cx="596.1" cy="122.9" r="1.8" fill="#666a70" fill-opacity="0.57"/>
<circle cx="595.5" cy="132.6" r="1.8" fill="#666a70" fill-opacity="0.57"/>
<circle cx="597.8" cy="139.0" r="1.8" fill="#666a70" fill-opacity="0.57"/>
<circle cx="598.7" cy="144.8" r="1.8" fill="#666a70" fill-opacity="0.57"/>
<circle cx="599.3" cy="146.5" r="1.8" fill="#666a70" fill-opacity="0.57"/>
<circle cx="597.6" cy="152.3" r="1.8" fill="#666a70" fill-opacity="0.57"/>
<circle cx="598.3" cy="176.5" r="1.8" fill="#666a70" fill-opacity="0.57"/>
<path d="M578.63 57.40H581.03M579.83 57.40V89.00M578.63 89.00H581.03" stroke="#000" stroke-width="0.9" fill="none"/>
<path d="M595.97 101.40H598.37M597.17 101.40V128.30M595.97 128.30H598.37" stroke="#000" stroke-width="0.9" fill="none"/>
<rect x="562.50" y="8.10" width="52.00" height="179.30" fill="none" stroke="#707070" stroke-width="0.9"/>
<line x1="588.50" y1="187.40" x2="588.50" y2="189.80" stroke="#707070" stroke-width="0.8"/>
<text x="591.60" y="199.70" font-size="9.25" text-anchor="middle" font-weight="normal" fill="#000" stroke="#000" stroke-width="0.22">Rainy D1</text>
<line x1="579.00" y1="34.50" x2="598.70" y2="34.50" stroke="#2a2a2a" stroke-width="1.0"/>
<polygon points="585.60,24.00 586.31,26.03 588.45,26.07 586.74,27.37 587.36,29.43 585.60,28.20 583.84,29.43 584.46,27.37 582.75,26.07 584.89,26.03" fill="#000"/>
<polygon points="592.10,24.00 592.81,26.03 594.95,26.07 593.24,27.37 593.86,29.43 592.10,28.20 590.34,29.43 590.96,27.37 589.25,26.07 591.39,26.03" fill="#000"/>
<text x="155.60" y="226.60" font-size="11.8" text-anchor="start" font-weight="bold" fill="#000">d</text>
<text x="172.20" y="321.70" font-size="9.6" text-anchor="middle" font-weight="normal" fill="#000" stroke="#000" stroke-width="0.22" transform="rotate(-90 172.2 321.7)">Number of pollen grains</text>
<text x="183.00" y="321.60" font-size="9.6" text-anchor="middle" font-weight="normal" fill="#000" stroke="#000" stroke-width="0.22" transform="rotate(-90 183.0 321.6)">remained (× 10³)</text>
<line x1="211.20" y1="397.60" x2="213.60" y2="397.60" stroke="#707070" stroke-width="0.8"/>
<text x="209.10" y="400.90" font-size="9.6" text-anchor="end" font-weight="normal" fill="#000" stroke="#000" stroke-width="0.22">0</text>
<line x1="211.20" y1="356.90" x2="213.60" y2="356.90" stroke="#707070" stroke-width="0.8"/>
<text x="209.10" y="360.20" font-size="9.6" text-anchor="end" font-weight="normal" fill="#000" stroke="#000" stroke-width="0.22">10</text>
<line x1="211.20" y1="316.20" x2="213.60" y2="316.20" stroke="#707070" stroke-width="0.8"/>
<text x="209.10" y="319.50" font-size="9.6" text-anchor="end" font-weight="normal" fill="#000" stroke="#000" stroke-width="0.22">20</text>
<line x1="211.20" y1="275.50" x2="213.60" y2="275.50" stroke="#707070" stroke-width="0.8"/>
<text x="209.10" y="278.80" font-size="9.6" text-anchor="end" font-weight="normal" fill="#000" stroke="#000" stroke-width="0.22">30</text>
<line x1="211.20" y1="234.80" x2="213.60" y2="234.80" stroke="#707070" stroke-width="0.8"/>
<text x="209.10" y="238.10" font-size="9.6" text-anchor="end" font-weight="normal" fill="#000" stroke="#000" stroke-width="0.22">40</text>
<rect x="223.52" y="366.91" width="19.84" height="30.69" fill="#E6624C" stroke="#1a1a1a" stroke-width="0.9"/>
<rect x="243.35" y="351.00" width="19.84" height="46.60" fill="#47AEA7" stroke="#1a1a1a" stroke-width="0.9"/>
<rect x="273.11" y="356.21" width="19.84" height="41.39" fill="#E6624C" stroke="#1a1a1a" stroke-width="0.9"/>
<rect x="292.95" y="342.90" width="19.84" height="54.70" fill="#47AEA7" stroke="#1a1a1a" stroke-width="0.9"/>
<circle cx="234.6" cy="266.0" r="1.8" fill="#666a70" fill-opacity="0.57"/>
<circle cx="233.9" cy="301.4" r="1.8" fill="#666a70" fill-opacity="0.57"/>
<circle cx="235.5" cy="312.8" r="1.8" fill="#666a70" fill-opacity="0.57"/>
<circle cx="254.8" cy="243.5" r="1.8" fill="#666a70" fill-opacity="0.57"/>
<circle cx="253.3" cy="278.4" r="1.8" fill="#666a70" fill-opacity="0.57"/>
<circle cx="250.5" cy="294.5" r="1.8" fill="#666a70" fill-opacity="0.57"/>
<circle cx="251.1" cy="296.2" r="1.8" fill="#666a70" fill-opacity="0.57"/>
<circle cx="254.3" cy="299.9" r="1.8" fill="#666a70" fill-opacity="0.57"/>
<circle cx="252.2" cy="303.8" r="1.8" fill="#666a70" fill-opacity="0.57"/>
<circle cx="235.0" cy="325.7" r="1.8" fill="#666a70" fill-opacity="0.57"/>
<circle cx="236.1" cy="338.2" r="1.8" fill="#666a70" fill-opacity="0.57"/>
<circle cx="231.2" cy="342.9" r="1.8" fill="#666a70" fill-opacity="0.57"/>
<circle cx="231.8" cy="346.8" r="1.8" fill="#666a70" fill-opacity="0.57"/>
<circle cx="233.3" cy="348.3" r="1.8" fill="#666a70" fill-opacity="0.57"/>
<circle cx="235.5" cy="360.1" r="1.8" fill="#666a70" fill-opacity="0.57"/>
<circle cx="233.3" cy="371.9" r="1.8" fill="#666a70" fill-opacity="0.57"/>
<circle cx="232.4" cy="378.3" r="1.8" fill="#666a70" fill-opacity="0.57"/>
<circle cx="235.0" cy="384.7" r="1.8" fill="#666a70" fill-opacity="0.57"/>
<circle cx="233.3" cy="389.0" r="1.8" fill="#666a70" fill-opacity="0.57"/>
<circle cx="231.8" cy="391.2" r="1.8" fill="#666a70" fill-opacity="0.57"/>
<circle cx="234.0" cy="391.8" r="1.8" fill="#666a70" fill-opacity="0.57"/>
<circle cx="235.5" cy="390.5" r="1.8" fill="#666a70" fill-opacity="0.57"/>
<circle cx="232.9" cy="393.3" r="1.8" fill="#666a70" fill-opacity="0.57"/>
<circle cx="252.2" cy="321.4" r="1.8" fill="#666a70" fill-opacity="0.57"/>
<circle cx="253.3" cy="323.6" r="1.8" fill="#666a70" fill-opacity="0.57"/>
<circle cx="251.1" cy="324.7" r="1.8" fill="#666a70" fill-opacity="0.57"/>
<circle cx="250.5" cy="330.5" r="1.8" fill="#666a70" fill-opacity="0.57"/>
<circle cx="254.3" cy="330.5" r="1.8" fill="#666a70" fill-opacity="0.57"/>
<circle cx="252.2" cy="336.0" r="1.8" fill="#666a70" fill-opacity="0.57"/>
<circle cx="254.3" cy="335.4" r="1.8" fill="#666a70" fill-opacity="0.57"/>
<circle cx="252.2" cy="365.4" r="1.8" fill="#666a70" fill-opacity="0.57"/>
<circle cx="253.3" cy="367.5" r="1.8" fill="#666a70" fill-opacity="0.57"/>
<circle cx="250.0" cy="376.8" r="1.8" fill="#666a70" fill-opacity="0.57"/>
<circle cx="253.3" cy="379.4" r="1.8" fill="#666a70" fill-opacity="0.57"/>
<circle cx="252.2" cy="383.2" r="1.8" fill="#666a70" fill-opacity="0.57"/>
<circle cx="250.5" cy="387.5" r="1.8" fill="#666a70" fill-opacity="0.57"/>
<circle cx="252.2" cy="389.0" r="1.8" fill="#666a70" fill-opacity="0.57"/>
<circle cx="253.9" cy="393.3" r="1.8" fill="#666a70" fill-opacity="0.57"/>
<circle cx="236.3" cy="365.0" r="1.8" fill="#666a70" fill-opacity="0.57"/>
<circle cx="232.7" cy="370.1" r="1.8" fill="#666a70" fill-opacity="0.57"/>
<circle cx="232.0" cy="385.8" r="1.8" fill="#666a70" fill-opacity="0.57"/>
<circle cx="235.6" cy="383.7" r="1.8" fill="#666a70" fill-opacity="0.57"/>
<circle cx="251.4" cy="366.5" r="1.8" fill="#666a70" fill-opacity="0.57"/>
<circle cx="254.2" cy="380.1" r="1.8" fill="#666a70" fill-opacity="0.57"/>
<circle cx="251.4" cy="383.0" r="1.8" fill="#666a70" fill-opacity="0.57"/>
<circle cx="255.0" cy="389.3" r="1.8" fill="#666a70" fill-opacity="0.57"/>
<circle cx="252.8" cy="393.6" r="1.8" fill="#666a70" fill-opacity="0.57"/>
<circle cx="285.0" cy="283.4" r="1.8" fill="#666a70" fill-opacity="0.57"/>
<circle cx="283.3" cy="294.1" r="1.8" fill="#666a70" fill-opacity="0.57"/>
<circle cx="282.4" cy="297.1" r="1.8" fill="#666a70" fill-opacity="0.57"/>
<circle cx="304.3" cy="270.5" r="1.8" fill="#666a70" fill-opacity="0.57"/>
<circle cx="300.0" cy="290.7" r="1.8" fill="#666a70" fill-opacity="0.57"/>
<circle cx="301.1" cy="293.5" r="1.8" fill="#666a70" fill-opacity="0.57"/>
<circle cx="303.3" cy="293.0" r="1.8" fill="#666a70" fill-opacity="0.57"/>
<circle cx="304.3" cy="309.5" r="1.8" fill="#666a70" fill-opacity="0.57"/>
<circle cx="300.0" cy="312.1" r="1.8" fill="#666a70" fill-opacity="0.57"/>
<circle cx="301.1" cy="315.6" r="1.8" fill="#666a70" fill-opacity="0.57"/>
<circle cx="284.6" cy="319.3" r="1.8" fill="#666a70" fill-opacity="0.57"/>
<circle cx="283.3" cy="322.5" r="1.8" fill="#666a70" fill-opacity="0.57"/>
<circle cx="281.8" cy="324.7" r="1.8" fill="#666a70" fill-opacity="0.57"/>
<circle cx="284.6" cy="326.8" r="1.8" fill="#666a70" fill-opacity="0.57"/>
<circle cx="285.5" cy="331.1" r="1.8" fill="#666a70" fill-opacity="0.57"/>
<circle cx="282.9" cy="333.9" r="1.8" fill="#666a70" fill-opacity="0.57"/>
<circle cx="283.9" cy="341.2" r="1.8" fill="#666a70" fill-opacity="0.57"/>
<circle cx="283.3" cy="344.0" r="1.8" fill="#666a70" fill-opacity="0.57"/>
<circle cx="281.8" cy="342.5" r="1.8" fill="#666a70" fill-opacity="0.57"/>
<circle cx="283.3" cy="379.0" r="1.8" fill="#666a70" fill-opacity="0.57"/>
<circle cx="283.9" cy="384.1" r="1.8" fill="#666a70" fill-opacity="0.57"/>
<circle cx="285.5" cy="384.7" r="1.8" fill="#666a70" fill-opacity="0.57"/>
<circle cx="282.9" cy="390.1" r="1.8" fill="#666a70" fill-opacity="0.57"/>
<circle cx="281.8" cy="391.8" r="1.8" fill="#666a70" fill-opacity="0.57"/>
<circle cx="284.6" cy="389.0" r="1.8" fill="#666a70" fill-opacity="0.57"/>
<circle cx="286.1" cy="394.8" r="1.8" fill="#666a70" fill-opacity="0.57"/>
<circle cx="300.0" cy="316.1" r="1.8" fill="#666a70" fill-opacity="0.57"/>
<circle cx="302.2" cy="318.2" r="1.8" fill="#666a70" fill-opacity="0.57"/>
<circle cx="303.3" cy="321.0" r="1.8" fill="#666a70" fill-opacity="0.57"/>
<circle cx="302.6" cy="334.7" r="1.8" fill="#666a70" fill-opacity="0.57"/>
<circle cx="302.2" cy="337.5" r="1.8" fill="#666a70" fill-opacity="0.57"/>
<circle cx="302.6" cy="360.1" r="1.8" fill="#666a70" fill-opacity="0.57"/>
<circle cx="303.9" cy="370.8" r="1.8" fill="#666a70" fill-opacity="0.57"/>
<circle cx="304.8" cy="375.1" r="1.8" fill="#666a70" fill-opacity="0.57"/>
<circle cx="302.2" cy="384.1" r="1.8" fill="#666a70" fill-opacity="0.57"/>
<circle cx="303.3" cy="389.0" r="1.8" fill="#666a70" fill-opacity="0.57"/>
<circle cx="301.1" cy="393.3" r="1.8" fill="#666a70" fill-opacity="0.57"/>
<circle cx="302.6" cy="394.0" r="1.8" fill="#666a70" fill-opacity="0.57"/>
<path d="M232.24 361.10H234.64M233.44 361.10V372.50M232.24 372.50H234.64" stroke="#000" stroke-width="0.9" fill="none"/>
<path d="M252.07 342.90H254.47M253.27 342.90V357.90M252.07 357.90H254.47" stroke="#000" stroke-width="0.9" fill="none"/>
<path d="M281.83 349.80H284.23M283.03 349.80V363.30M281.83 363.30H284.23" stroke="#000" stroke-width="0.9" fill="none"/>
<path d="M301.66 336.50H304.06M302.86 336.50V349.80M301.66 349.80H304.06" stroke="#000" stroke-width="0.9" fill="none"/>
<rect x="213.60" y="226.30" width="109.10" height="179.10" fill="none" stroke="#707070" stroke-width="0.9"/>
<line x1="243.35" y1="405.40" x2="243.35" y2="407.80" stroke="#707070" stroke-width="0.8"/>
<text x="243.40" y="416.70" font-size="9.25" text-anchor="middle" font-weight="normal" fill="#000" stroke="#000" stroke-width="0.22">Sunny D1</text>
<line x1="292.95" y1="405.40" x2="292.95" y2="407.80" stroke="#707070" stroke-width="0.8"/>
<text x="294.70" y="416.70" font-size="9.25" text-anchor="middle" font-weight="normal" fill="#000" stroke="#000" stroke-width="0.22">Sunny D2</text>
<line x1="284.00" y1="254.50" x2="303.90" y2="254.50" stroke="#2a2a2a" stroke-width="1.0"/>
<polygon points="293.95,244.00 294.66,246.03 296.80,246.07 295.09,247.37 295.71,249.43 293.95,248.20 292.19,249.43 292.81,247.37 291.10,246.07 293.24,246.03" fill="#000"/>
<text x="335.00" y="227.00" font-size="11.8" text-anchor="start" font-weight="bold" fill="#000">e</text>
<text x="348.00" y="322.40" font-size="9.6" text-anchor="middle" font-weight="normal" fill="#000" stroke="#000" stroke-width="0.22" transform="rotate(-90 348.0 322.4)">Nnumber of pollen grains</text>
<text x="358.20" y="321.60" font-size="9.6" text-anchor="middle" font-weight="normal" fill="#000" stroke="#000" stroke-width="0.22" transform="rotate(-90 358.2 321.6)">germinated on stigma</text>
<line x1="386.00" y1="398.10" x2="388.40" y2="398.10" stroke="#707070" stroke-width="0.8"/>
<text x="383.90" y="401.40" font-size="9.6" text-anchor="end" font-weight="normal" fill="#000" stroke="#000" stroke-width="0.22">0</text>
<line x1="386.00" y1="357.20" x2="388.40" y2="357.20" stroke="#707070" stroke-width="0.8"/>
<text x="383.90" y="360.50" font-size="9.6" text-anchor="end" font-weight="normal" fill="#000" stroke="#000" stroke-width="0.22">20</text>
<line x1="386.00" y1="316.30" x2="388.40" y2="316.30" stroke="#707070" stroke-width="0.8"/>
<text x="383.90" y="319.60" font-size="9.6" text-anchor="end" font-weight="normal" fill="#000" stroke="#000" stroke-width="0.22">40</text>
<line x1="386.00" y1="275.40" x2="388.40" y2="275.40" stroke="#707070" stroke-width="0.8"/>
<text x="383.90" y="278.70" font-size="9.6" text-anchor="end" font-weight="normal" fill="#000" stroke="#000" stroke-width="0.22">60</text>
<line x1="386.00" y1="234.50" x2="388.40" y2="234.50" stroke="#707070" stroke-width="0.8"/>
<text x="383.90" y="237.80" font-size="9.6" text-anchor="end" font-weight="normal" fill="#000" stroke="#000" stroke-width="0.22">80</text>
<rect x="398.71" y="363.95" width="20.62" height="34.15" fill="#E6624C" stroke="#1a1a1a" stroke-width="0.9"/>
<rect x="419.33" y="374.99" width="20.62" height="23.11" fill="#47AEA7" stroke="#1a1a1a" stroke-width="0.9"/>
<rect x="450.25" y="371.72" width="20.62" height="26.38" fill="#E6624C" stroke="#1a1a1a" stroke-width="0.9"/>
<rect x="470.87" y="375.81" width="20.62" height="22.29" fill="#47AEA7" stroke="#1a1a1a" stroke-width="0.9"/>
<circle cx="411.1" cy="260.8" r="1.8" fill="#666a70" fill-opacity="0.57"/>
<circle cx="406.8" cy="265.1" r="1.8" fill="#666a70" fill-opacity="0.57"/>
<circle cx="407.2" cy="277.4" r="1.8" fill="#666a70" fill-opacity="0.57"/>
<circle cx="410.5" cy="305.9" r="1.8" fill="#666a70" fill-opacity="0.57"/>
<circle cx="428.9" cy="269.2" r="1.8" fill="#666a70" fill-opacity="0.57"/>
<circle cx="427.6" cy="307.8" r="1.8" fill="#666a70" fill-opacity="0.57"/>
<circle cx="428.2" cy="308.3" r="1.8" fill="#666a70" fill-opacity="0.57"/>
<circle cx="428.3" cy="317.0" r="1.8" fill="#666a70" fill-opacity="0.57"/>
<circle cx="410.5" cy="330.5" r="1.8" fill="#666a70" fill-opacity="0.57"/>
<circle cx="409.6" cy="340.3" r="1.8" fill="#666a70" fill-opacity="0.57"/>
<circle cx="411.1" cy="342.5" r="1.8" fill="#666a70" fill-opacity="0.57"/>
<circle cx="411.1" cy="348.9" r="1.8" fill="#666a70" fill-opacity="0.57"/>
<circle cx="410.9" cy="363.0" r="1.8" fill="#666a70" fill-opacity="0.57"/>
<circle cx="410.9" cy="369.5" r="1.8" fill="#666a70" fill-opacity="0.57"/>
<circle cx="411.4" cy="375.4" r="1.8" fill="#666a70" fill-opacity="0.57"/>
<circle cx="408.2" cy="377.0" r="1.8" fill="#666a70" fill-opacity="0.57"/>
<circle cx="408.7" cy="387.2" r="1.8" fill="#666a70" fill-opacity="0.57"/>
<circle cx="411.4" cy="389.9" r="1.8" fill="#666a70" fill-opacity="0.57"/>
<circle cx="408.2" cy="390.4" r="1.8" fill="#666a70" fill-opacity="0.57"/>
<circle cx="407.1" cy="393.1" r="1.8" fill="#666a70" fill-opacity="0.57"/>
<circle cx="409.3" cy="397.9" r="1.8" fill="#666a70" fill-opacity="0.57"/>
<circle cx="407.2" cy="397.9" r="1.8" fill="#666a70" fill-opacity="0.57"/>
<circle cx="411.0" cy="397.9" r="1.8" fill="#666a70" fill-opacity="0.57"/>
<circle cx="428.3" cy="318.2" r="1.8" fill="#666a70" fill-opacity="0.57"/>
<circle cx="428.3" cy="342.9" r="1.8" fill="#666a70" fill-opacity="0.57"/>
<circle cx="430.2" cy="360.9" r="1.8" fill="#666a70" fill-opacity="0.57"/>
<circle cx="426.4" cy="365.2" r="1.8" fill="#666a70" fill-opacity="0.57"/>
<circle cx="427.6" cy="365.4" r="1.8" fill="#666a70" fill-opacity="0.57"/>
<circle cx="430.2" cy="373.2" r="1.8" fill="#666a70" fill-opacity="0.57"/>
<circle cx="430.7" cy="383.4" r="1.8" fill="#666a70" fill-opacity="0.57"/>
<circle cx="427.0" cy="387.7" r="1.8" fill="#666a70" fill-opacity="0.57"/>
<circle cx="427.5" cy="390.4" r="1.8" fill="#666a70" fill-opacity="0.57"/>
<circle cx="428.0" cy="393.6" r="1.8" fill="#666a70" fill-opacity="0.57"/>
<circle cx="429.1" cy="397.9" r="1.8" fill="#666a70" fill-opacity="0.57"/>
<circle cx="427.2" cy="397.9" r="1.8" fill="#666a70" fill-opacity="0.57"/>
<circle cx="430.8" cy="397.9" r="1.8" fill="#666a70" fill-opacity="0.57"/>
<circle cx="460.0" cy="291.7" r="1.8" fill="#666a70" fill-opacity="0.57"/>
<circle cx="481.4" cy="277.4" r="1.8" fill="#666a70" fill-opacity="0.57"/>
<circle cx="481.4" cy="305.9" r="1.8" fill="#666a70" fill-opacity="0.57"/>
<circle cx="482.5" cy="316.0" r="1.8" fill="#666a70" fill-opacity="0.57"/>
<circle cx="462.7" cy="326.2" r="1.8" fill="#666a70" fill-opacity="0.57"/>
<circle cx="459.3" cy="339.0" r="1.8" fill="#666a70" fill-opacity="0.57"/>
<circle cx="458.4" cy="341.2" r="1.8" fill="#666a70" fill-opacity="0.57"/>
<circle cx="458.9" cy="350.4" r="1.8" fill="#666a70" fill-opacity="0.57"/>
<circle cx="461.5" cy="351.9" r="1.8" fill="#666a70" fill-opacity="0.57"/>
<circle cx="462.7" cy="353.6" r="1.8" fill="#666a70" fill-opacity="0.57"/>
<circle cx="461.4" cy="360.9" r="1.8" fill="#666a70" fill-opacity="0.57"/>
<circle cx="459.3" cy="363.1" r="1.8" fill="#666a70" fill-opacity="0.57"/>
<circle cx="463.0" cy="365.2" r="1.8" fill="#666a70" fill-opacity="0.57"/>
<circle cx="463.6" cy="367.4" r="1.8" fill="#666a70" fill-opacity="0.57"/>
<circle cx="460.9" cy="373.8" r="1.8" fill="#666a70" fill-opacity="0.57"/>
<circle cx="458.8" cy="381.3" r="1.8" fill="#666a70" fill-opacity="0.57"/>
<circle cx="459.3" cy="383.5" r="1.8" fill="#666a70" fill-opacity="0.57"/>
<circle cx="458.8" cy="386.2" r="1.8" fill="#666a70" fill-opacity="0.57"/>
<circle cx="462.0" cy="393.7" r="1.8" fill="#666a70" fill-opacity="0.57"/>
<circle cx="459.8" cy="398.0" r="1.8" fill="#666a70" fill-opacity="0.57"/>
<circle cx="463.0" cy="398.0" r="1.8" fill="#666a70" fill-opacity="0.57"/>
<circle cx="482.5" cy="316.1" r="1.8" fill="#666a70" fill-opacity="0.57"/>
<circle cx="480.8" cy="346.8" r="1.8" fill="#666a70" fill-opacity="0.57"/>
<circle cx="481.4" cy="348.9" r="1.8" fill="#666a70" fill-opacity="0.57"/>
<circle cx="481.3" cy="360.9" r="1.8" fill="#666a70" fill-opacity="0.57"/>
<circle cx="482.4" cy="365.2" r="1.8" fill="#666a70" fill-opacity="0.57"/>
<circle cx="479.2" cy="371.1" r="1.8" fill="#666a70" fill-opacity="0.57"/>
<circle cx="481.3" cy="369.5" r="1.8" fill="#666a70" fill-opacity="0.57"/>
<circle cx="480.3" cy="378.1" r="1.8" fill="#666a70" fill-opacity="0.57"/>
<circle cx="480.8" cy="383.0" r="1.8" fill="#666a70" fill-opacity="0.57"/>
<circle cx="479.7" cy="387.3" r="1.8" fill="#666a70" fill-opacity="0.57"/>
<circle cx="481.3" cy="393.7" r="1.8" fill="#666a70" fill-opacity="0.57"/>
<circle cx="479.2" cy="398.0" r="1.8" fill="#666a70" fill-opacity="0.57"/>
<circle cx="482.4" cy="398.0" r="1.8" fill="#666a70" fill-opacity="0.57"/>
<path d="M407.82 356.40H410.22M409.02 356.40V371.90M407.82 371.90H410.22" stroke="#000" stroke-width="0.9" fill="none"/>
<path d="M428.44 368.20H430.84M429.64 368.20V381.10M428.44 381.10H430.84" stroke="#000" stroke-width="0.9" fill="none"/>
<path d="M459.36 366.50H461.76M460.56 366.50V377.20M459.36 377.20H461.76" stroke="#000" stroke-width="0.9" fill="none"/>
<path d="M479.98 370.40H482.38M481.18 370.40V382.00M479.98 382.00H482.38" stroke="#000" stroke-width="0.9" fill="none"/>
<rect x="388.40" y="226.40" width="113.40" height="179.90" fill="none" stroke="#707070" stroke-width="0.9"/>
<line x1="419.33" y1="406.30" x2="419.33" y2="408.70" stroke="#707070" stroke-width="0.8"/>
<text x="418.70" y="416.70" font-size="9.25" text-anchor="middle" font-weight="normal" fill="#000" stroke="#000" stroke-width="0.22">Sunny D1</text>
<line x1="470.87" y1="406.30" x2="470.87" y2="408.70" stroke="#707070" stroke-width="0.8"/>
<text x="472.30" y="416.70" font-size="9.25" text-anchor="middle" font-weight="normal" fill="#000" stroke="#000" stroke-width="0.22">Sunny D2</text>
<text x="511.60" y="226.60" font-size="11.8" text-anchor="start" font-weight="bold" fill="#000">f</text>
<text x="530.20" y="314.00" font-size="9.6" text-anchor="middle" font-weight="normal" fill="#000" stroke="#000" stroke-width="0.22" transform="rotate(-90 530.2 314.0)">Fruit−set rate</text>
<line x1="559.30" y1="395.40" x2="561.70" y2="395.40" stroke="#707070" stroke-width="0.8"/>
<text x="557.20" y="398.70" font-size="9.6" text-anchor="end" font-weight="normal" fill="#000" stroke="#000" stroke-width="0.22">0.00</text>
<line x1="559.30" y1="355.02" x2="561.70" y2="355.02" stroke="#707070" stroke-width="0.8"/>
<text x="557.20" y="358.32" font-size="9.6" text-anchor="end" font-weight="normal" fill="#000" stroke="#000" stroke-width="0.22">0.25</text>
<line x1="559.30" y1="314.65" x2="561.70" y2="314.65" stroke="#707070" stroke-width="0.8"/>
<text x="557.20" y="317.95" font-size="9.6" text-anchor="end" font-weight="normal" fill="#000" stroke="#000" stroke-width="0.22">0.50</text>
<line x1="559.30" y1="274.27" x2="561.70" y2="274.27" stroke="#707070" stroke-width="0.8"/>
<text x="557.20" y="277.57" font-size="9.6" text-anchor="end" font-weight="normal" fill="#000" stroke="#000" stroke-width="0.22">0.75</text>
<line x1="559.30" y1="233.90" x2="561.70" y2="233.90" stroke="#707070" stroke-width="0.8"/>
<text x="557.20" y="237.20" font-size="9.6" text-anchor="end" font-weight="normal" fill="#000" stroke="#000" stroke-width="0.22">1.00</text>
<rect x="571.23" y="360.84" width="19.05" height="34.56" fill="#E6624C" stroke="#1a1a1a" stroke-width="0.9"/>
<rect x="590.28" y="388.13" width="19.05" height="7.27" fill="#47AEA7" stroke="#1a1a1a" stroke-width="0.9"/>
<rect x="618.86" y="342.27" width="19.05" height="53.13" fill="#E6624C" stroke="#1a1a1a" stroke-width="0.9"/>
<rect x="637.92" y="380.38" width="19.05" height="15.02" fill="#47AEA7" stroke="#1a1a1a" stroke-width="0.9"/>
<circle cx="579.0" cy="304.8" r="1.8" fill="#666a70" fill-opacity="0.57"/>
<circle cx="582.6" cy="307.2" r="1.8" fill="#666a70" fill-opacity="0.57"/>
<circle cx="628.1" cy="277.6" r="1.8" fill="#666a70" fill-opacity="0.57"/>
<circle cx="627.5" cy="311.9" r="1.8" fill="#666a70" fill-opacity="0.57"/>
<circle cx="580.5" cy="339.9" r="1.8" fill="#666a70" fill-opacity="0.57"/>
<circle cx="580.0" cy="341.6" r="1.8" fill="#666a70" fill-opacity="0.57"/>
<circle cx="579.0" cy="346.3" r="1.8" fill="#666a70" fill-opacity="0.57"/>
<circle cx="582.2" cy="368.9" r="1.8" fill="#666a70" fill-opacity="0.57"/>
<circle cx="580.0" cy="370.0" r="1.8" fill="#666a70" fill-opacity="0.57"/>
<circle cx="578.3" cy="372.1" r="1.8" fill="#666a70" fill-opacity="0.57"/>
<circle cx="580.0" cy="395.3" r="1.8" fill="#666a70" fill-opacity="0.57"/>
<circle cx="579.0" cy="395.8" r="1.8" fill="#666a70" fill-opacity="0.57"/>
<circle cx="601.0" cy="362.4" r="1.8" fill="#666a70" fill-opacity="0.57"/>
<circle cx="598.9" cy="369.9" r="1.8" fill="#666a70" fill-opacity="0.57"/>
<circle cx="600.4" cy="380.2" r="1.8" fill="#666a70" fill-opacity="0.57"/>
<circle cx="597.6" cy="394.6" r="1.8" fill="#666a70" fill-opacity="0.57"/>
<circle cx="599.5" cy="395.4" r="1.8" fill="#666a70" fill-opacity="0.57"/>
<circle cx="627.5" cy="312.4" r="1.8" fill="#666a70" fill-opacity="0.57"/>
<circle cx="628.1" cy="318.9" r="1.8" fill="#666a70" fill-opacity="0.57"/>
<circle cx="627.5" cy="336.0" r="1.8" fill="#666a70" fill-opacity="0.57"/>
<circle cx="628.7" cy="351.7" r="1.8" fill="#666a70" fill-opacity="0.57"/>
<circle cx="629.6" cy="379.6" r="1.8" fill="#666a70" fill-opacity="0.57"/>
<circle cx="628.8" cy="380.6" r="1.8" fill="#666a70" fill-opacity="0.57"/>
<circle cx="630.2" cy="396.8" r="1.8" fill="#666a70" fill-opacity="0.57"/>
<circle cx="645.9" cy="331.3" r="1.8" fill="#666a70" fill-opacity="0.57"/>
<circle cx="645.3" cy="365.2" r="1.8" fill="#666a70" fill-opacity="0.57"/>
<circle cx="646.3" cy="382.8" r="1.8" fill="#666a70" fill-opacity="0.57"/>
<circle cx="648.5" cy="383.9" r="1.8" fill="#666a70" fill-opacity="0.57"/>
<circle cx="646.3" cy="396.8" r="1.8" fill="#666a70" fill-opacity="0.57"/>
<path d="M579.55 352.10H581.95M580.75 352.10V369.50M579.55 369.50H581.95" stroke="#000" stroke-width="0.9" fill="none"/>
<path d="M598.61 384.30H601.01M599.81 384.30V390.30M598.61 390.30H601.01" stroke="#000" stroke-width="0.9" fill="none"/>
<path d="M627.19 330.90H629.59M628.39 330.90V353.20M627.19 353.20H629.59" stroke="#000" stroke-width="0.9" fill="none"/>
<path d="M646.25 373.60H648.65M647.45 373.60V387.10M646.25 387.10H648.65" stroke="#000" stroke-width="0.9" fill="none"/>
<rect x="561.70" y="225.40" width="104.80" height="179.80" fill="none" stroke="#707070" stroke-width="0.9"/>
<line x1="590.28" y1="405.20" x2="590.28" y2="407.60" stroke="#707070" stroke-width="0.8"/>
<text x="589.30" y="416.70" font-size="9.25" text-anchor="middle" font-weight="normal" fill="#000" stroke="#000" stroke-width="0.22">Sunny D1</text>
<line x1="637.92" y1="405.20" x2="637.92" y2="407.60" stroke="#707070" stroke-width="0.8"/>
<text x="640.70" y="416.70" font-size="9.25" text-anchor="middle" font-weight="normal" fill="#000" stroke="#000" stroke-width="0.22">Sunny D2</text>
<line x1="579.60" y1="254.80" x2="600.00" y2="254.80" stroke="#b4b4b4" stroke-width="1.7"/>
<polygon points="589.80,244.30 590.51,246.33 592.65,246.37 590.94,247.67 591.56,249.73 589.80,248.50 588.04,249.73 588.66,247.67 586.95,246.37 589.09,246.33" fill="#000"/>
<line x1="627.00" y1="254.50" x2="647.00" y2="254.50" stroke="#2a2a2a" stroke-width="1.0"/>
<polygon points="630.50,244.00 631.21,246.03 633.35,246.07 631.64,247.37 632.26,249.43 630.50,248.20 628.74,249.43 629.36,247.37 627.65,246.07 629.79,246.03" fill="#000"/>
<polygon points="637.00,244.00 637.71,246.03 639.85,246.07 638.14,247.37 638.76,249.43 637.00,248.20 635.24,249.43 635.86,247.37 634.15,246.07 636.29,246.03" fill="#000"/>
<polygon points="643.50,244.00 644.21,246.03 646.35,246.07 644.64,247.37 645.26,249.43 643.50,248.20 641.74,249.43 642.36,247.37 640.65,246.07 642.79,246.03" fill="#000"/>
<rect x="620.6" y="83.1" width="11.2" height="11.8" fill="#E6624C" stroke="#1a1a1a" stroke-width="0.9"/>
<rect x="620.6" y="94.9" width="11.2" height="11.8" fill="#47AEA7" stroke="#1a1a1a" stroke-width="0.9"/>
<circle cx="626.2" cy="89" r="1.8" fill="#666a70" fill-opacity="0.57"/>
<circle cx="626.2" cy="100.8" r="1.8" fill="#666a70" fill-opacity="0.57"/>
<text x="636.80" y="94.10" font-size="10.35" text-anchor="start" font-weight="normal" fill="#111" stroke="#111" stroke-width="0.22">Upward</text>
<text x="636.80" y="106.80" font-size="10.35" text-anchor="start" font-weight="normal" fill="#111" stroke="#111" stroke-width="0.22">Downward</text>
</svg>
</body></html>
